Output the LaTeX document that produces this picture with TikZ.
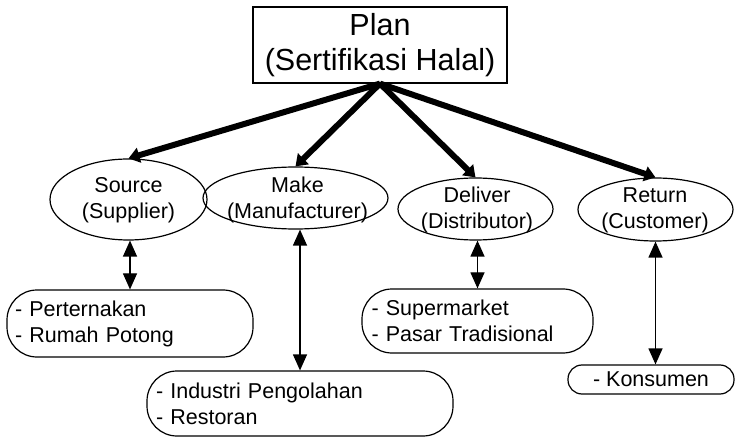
\documentclass[tikz,border=0pt]{standalone}
\usepackage{fontspec}
\setmainfont{Liberation Sans}
\usetikzlibrary{shapes.geometric,arrows.meta,calc}
\begin{document}
\begin{tikzpicture}[x=1pt,y=-1pt,
  thin/.style={line width=1.2pt},
  ell/.style={draw,ellipse,thin,inner sep=0pt},
  lbl/.style={align=center,inner sep=0pt,font=\fontsize{21.5}{26}\selectfont},
  listbox/.style={draw,thin,rounded corners=30pt,align=left,inner sep=0pt,font=\fontsize{21.5}{26}\selectfont},
  bigarrow/.style={line width=6pt,-{Triangle[length=11pt,width=15pt]}},
  dblarrow/.style={thin,{Triangle[length=16pt,width=14pt]}-{Triangle[length=16pt,width=14pt]}}
]
\useasboundingbox (0,0) rectangle (736,438);
% Plan box
\node[draw,thin,minimum width=254pt,minimum height=76pt,inner sep=0pt,align=center,
      font=\fontsize{30.5}{35}\selectfont] (plan) at (380,45) {Plan\\(Sertifikasi Halal)};
% ellipses
\node[ell,minimum width=157pt,minimum height=81pt] (src) at (128.5,199.5) {};
\node[ell,minimum width=185pt,minimum height=62pt] (make) at (295.5,198) {};
\node[ell,minimum width=155pt,minimum height=62pt] (del) at (475.5,209) {};
\node[ell,minimum width=155pt,minimum height=63pt] (ret) at (655.5,209.5) {};
\node[lbl] (srct) at (128.5,200) {Source\\(Supplier)};
\node[lbl] (maket) at (297.5,200) {Make\\(Manufacturer)};
\node[lbl] (delt) at (477,210) {Deliver\\(Distributor)};
\node[lbl] (rett) at (655,210) {Return\\(Customer)};
% list boxes
\node[listbox,minimum width=246pt,minimum height=67pt,text width=230pt] (pert) at (130,323.5)
  {- Perternakan\\- Rumah Potong};
\node[listbox,minimum width=306pt,minimum height=65pt,text width=288pt] (ind) at (300,403.5)
  {- Industri Pengolahan\\- Restoran};
\node[listbox,minimum width=231pt,minimum height=64pt,text width=212pt] (sup) at (477.5,321)
  {- Supermarket\\- Pasar Tradisional};
\node[draw,thin,rounded corners=14pt,minimum width=166pt,minimum height=29pt,inner sep=0pt,
      font=\fontsize{21.5}{26}\selectfont] (kons) at (651,379.5) {- Konsumen};
% thick arrows
\coordinate (apex) at (plan.south);
\draw[bigarrow] (apex) -- (src.north);
\draw[bigarrow] (apex) -- (make.north);
\draw[bigarrow] (apex) -- (del.north);
\draw[bigarrow] (apex) -- (ret.north);
% double arrows
\draw[dblarrow] (src.south -| pert.north) -- (pert.north);
\draw[dblarrow] (make.south -| ind.north) -- (ind.north);
\draw[dblarrow] (del.south -| sup.north) -- (sup.north);
\draw[dblarrow] (ret.south) -- (ret.south |- kons.north);
\end{tikzpicture}
\end{document}
